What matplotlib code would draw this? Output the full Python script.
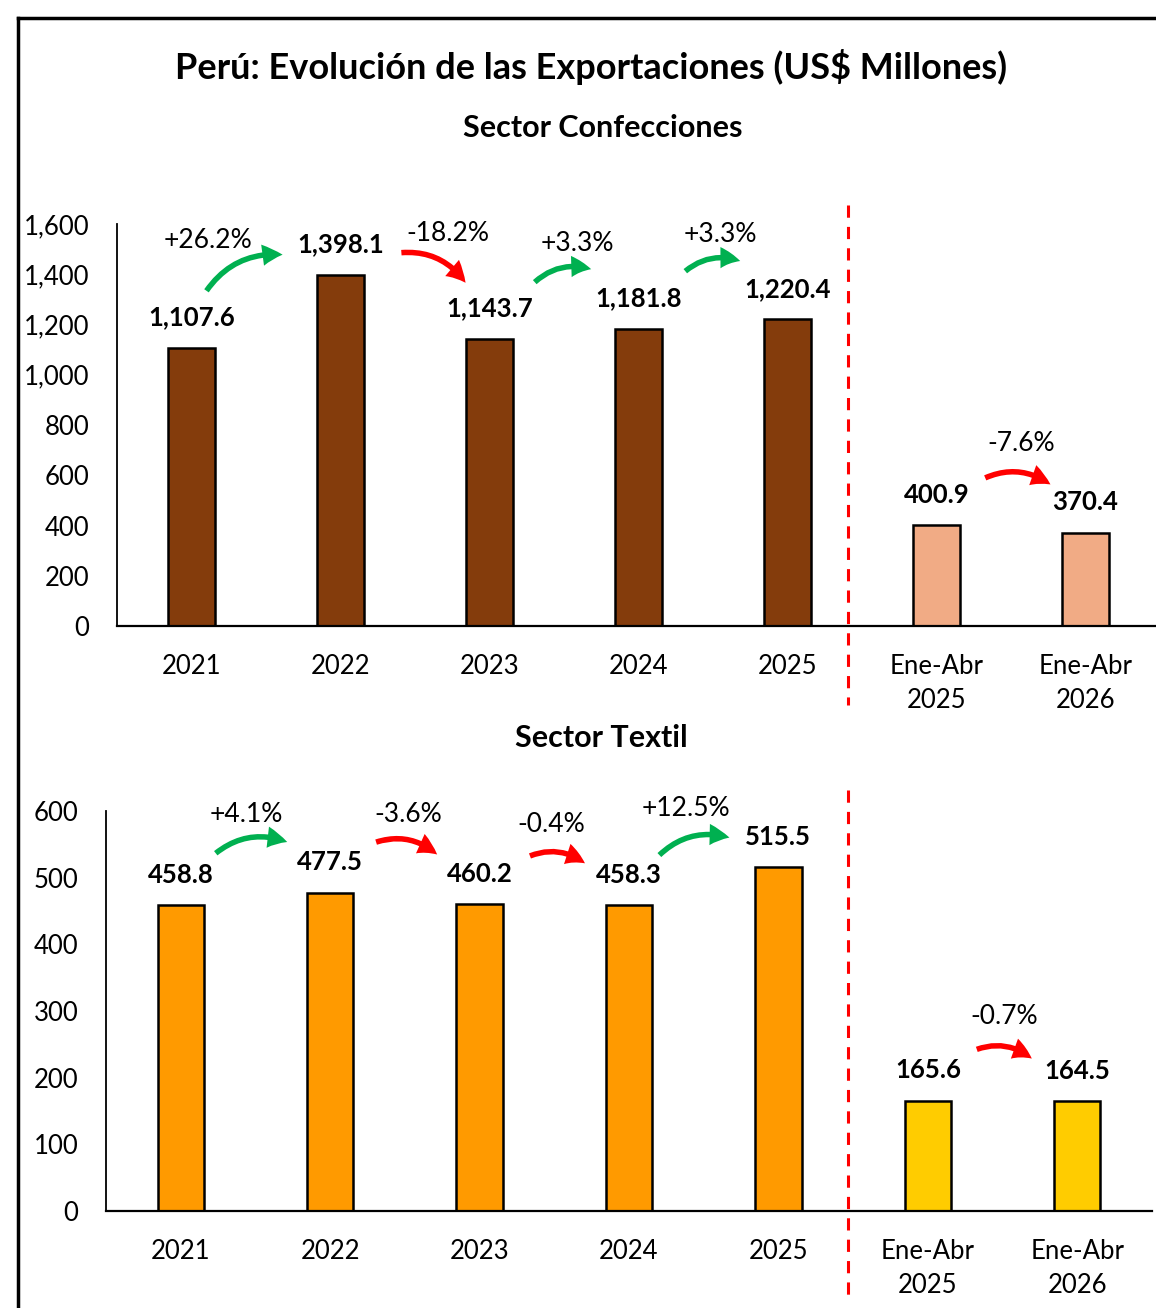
import matplotlib
matplotlib.use("Agg")
import matplotlib.pyplot as plt
from matplotlib.lines import Line2D
from matplotlib.patches import FancyArrowPatch

plt.rcParams['font.family'] = ['Lato', 'DejaVu Sans']

categories = ["2021", "2022", "2023", "2024", "2025", "Ene-Abr\n2025", "Ene-Abr\n2026"]

conf_values = [1107.6, 1398.1, 1143.7, 1181.8, 1220.4, 400.9, 370.4]
conf_labels = ["1,107.6", "1,398.1", "1,143.7", "1,181.8", "1,220.4", "400.9", "370.4"]
conf_colors = ["#843C0C"] * 5 + ["#F1AB85"] * 2
conf_pct = ["+26.2%", "-18.2%", "+3.3%", "+3.3%", "-7.6%"]

text_values = [458.8, 477.5, 460.2, 458.3, 515.5, 165.6, 164.5]
text_labels = ["458.8", "477.5", "460.2", "458.3", "515.5", "165.6", "164.5"]
text_colors = ["#FF9A00"] * 5 + ["#FFCC00"] * 2
text_pct = ["+4.1%", "-3.6%", "-0.4%", "+12.5%", "-0.7%"]

# arrow placement (data coords): start, end, text position
conf_arrows = [((0.09, 1325), (0.63, 1477), (0.11, 1536)),
               ((1.39, 1485), (1.85, 1357), (1.72, 1564)),
               ((2.29, 1361), (2.70, 1417), (2.59, 1524)),
               ((3.30, 1405), (3.70, 1449), (3.55, 1560)),
               ((5.31, 585), (5.78, 557), (5.57, 728))]
text_arrows = [((0.22, 534), (0.73, 552), (0.44, 594)),
               ((1.29, 552), (1.73, 532), (1.52, 594)),
               ((2.32, 531), (2.72, 519), (2.48, 579)),
               ((3.19, 531), (3.69, 559), (3.38, 604)),
               ((5.31, 241), (5.71, 226), (5.51, 291))]

W, H = 1156, 1308
fig = plt.figure(figsize=(W / 100, H / 100), dpi=100)

# outer frame (top and left visible)
fig.add_artist(Line2D([18 / W, 1.01], [1 - 18 / H, 1 - 18 / H], color="black", lw=2.5))
fig.add_artist(Line2D([18 / W, 18 / W], [1 - 18 / H, -0.01], color="black", lw=2.5))

fig.text(591 / W, 1 - 67 / H, "Perú: Evolución de las Exportaciones (US$ Millones)",
         ha="center", va="center", fontsize=26, fontweight="bold")
fig.text(603 / W, 1 - 128 / H, "Sector Confecciones", ha="center", va="center",
         fontsize=22, fontweight="bold")
fig.text(601 / W, 1 - 738 / H, "Sector Textil", ha="center", va="center",
         fontsize=22, fontweight="bold")


def draw(ax, values, labels, colors, pct, arrows, ymax, step, fmt):
    x = range(len(values))
    ax.bar(x, values, width=0.31, color=colors, edgecolor="black", linewidth=1.8)
    ax.set_xlim(-0.5, 6.5)
    ax.set_ylim(0, ymax)
    ax.set_yticks(range(0, ymax + 1, step))
    ax.set_yticklabels([fmt(v) for v in range(0, ymax + 1, step)])
    ax.set_xticks(list(x))
    ax.set_xticklabels(categories, linespacing=1.45)
    ax.tick_params(axis="both", length=0, labelsize=18.5)
    ax.tick_params(axis="y", pad=20)
    ax.tick_params(axis="x", pad=20)
    for s in ["top", "right"]:
        ax.spines[s].set_visible(False)
    ax.spines["left"].set_linewidth(1.3)
    ax.spines["bottom"].set_linewidth(1.6)
    for i, v in enumerate(values):
        ax.annotate(labels[i], (i, v), xytext=(0, 22), textcoords="offset points",
                    ha="center", va="center", fontsize=18.5, fontweight="bold")
    for (s, e, t), p in zip(arrows, pct):
        col = "#00B050" if p.startswith("+") else "#FF0000"
        ax.add_patch(FancyArrowPatch(s, e, connectionstyle="arc3,rad=-0.3",
                                     arrowstyle="simple,tail_width=0.22,head_width=0.85,head_length=0.8",
                                     mutation_scale=18, color=col, lw=0, clip_on=False))
        ax.text(t[0], t[1], p, ha="center", va="center", fontsize=19)


ax1 = fig.add_axes([117 / W, 1 - 626 / H, 1043 / W, 402 / H])
draw(ax1, conf_values, conf_labels, conf_colors, conf_pct, conf_arrows, 1600, 200,
     lambda v: f"{v:,}")

ax2 = fig.add_axes([106 / W, 1 - 1211 / H, 1046 / W, 400 / H])
draw(ax2, text_values, text_labels, text_colors, text_pct, text_arrows, 600, 100,
     lambda v: f"{v}")

# dashed separators
dash_x = 848 / W
fig.add_artist(Line2D([dash_x, dash_x], [1 - 205 / H, 1 - 705 / H], color="#FF0000",
                      lw=2.2, ls=(0, (4, 3))))
fig.add_artist(Line2D([dash_x, dash_x], [1 - 790 / H, 1 - 1300 / H], color="#FF0000",
                      lw=2.2, ls=(0, (4, 3))))

fig.savefig("out.png", dpi=100)
